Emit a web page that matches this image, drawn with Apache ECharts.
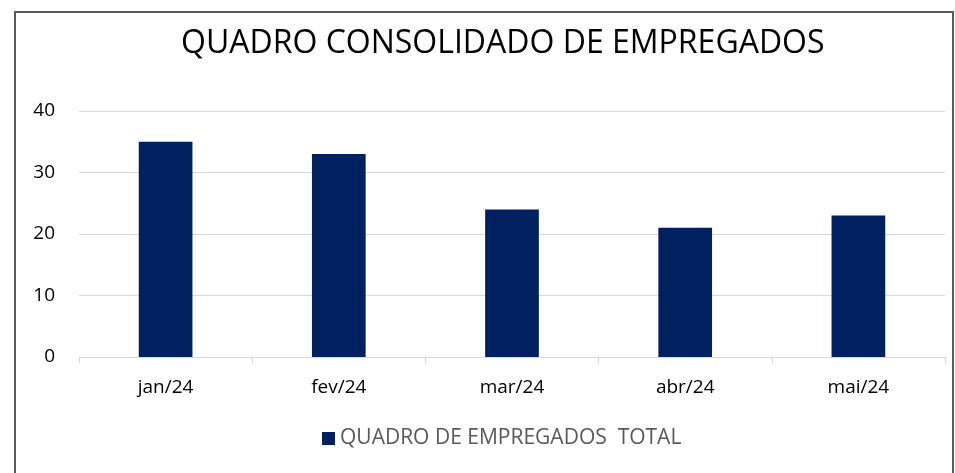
<!DOCTYPE html>
<html>
<head>
<meta charset="utf-8">
<script src="https://cdn.jsdelivr.net/npm/echarts@6/dist/echarts.min.js"></script>
<style>
  html, body { margin: 0; padding: 0; background: #fff; }
  #chart { width: 955px; height: 473px; }
</style>
</head>
<body>
<div id="chart"></div>
<script>
var categories = ["jan/24", "fev/24", "mar/24", "abr/24", "mai/24"];
var totalValues = [35, 33, 24, 21, 23];
var seriesName = "QUADRO DE EMPREGADOS  TOTAL";
var chartTitle = "QUADRO CONSOLIDADO DE EMPREGADOS";

var font = "'Open Sans', 'Noto Sans', sans-serif";
var chart = echarts.init(document.getElementById("chart"));
var option = {
  backgroundColor: "#ffffff",
  animation: false,
  graphic: [{
    type: "rect",
    shape: { x: 15, y: 12, width: 938, height: 480 },
    style: { fill: "none", stroke: "#595959", lineWidth: 2 },
    silent: true
  }],
  title: {
    text: chartTitle,
    left: 176,
    top: 23,
    textStyle: { fontFamily: font, fontSize: 32, fontWeight: "normal", color: "#000" }
  },
  legend: {
    bottom: 19,
    left: 317,
    itemWidth: 13,
    itemHeight: 13,
    itemGap: 12,
    icon: "rect",
    textStyle: { fontFamily: font, fontSize: 21, color: "#595959" }
  },
  grid: { left: 79, right: 10, top: 111, bottom: 116, containLabel: false },
  xAxis: {
    type: "category",
    data: categories,
    axisLine: { lineStyle: { color: "#d9d9d9", width: 1 } },
    axisTick: { show: true, length: 6, lineStyle: { color: "#d9d9d9" } },
    axisLabel: { fontFamily: font, fontSize: 19, color: "#000", margin: 21 }
  },
  yAxis: {
    type: "value",
    min: 0,
    max: 40,
    interval: 10,
    axisLine: { show: false },
    axisTick: { show: false },
    axisLabel: { fontFamily: font, fontSize: 19, color: "#000", margin: 24 },
    splitLine: { lineStyle: { color: "#d9d9d9", width: 1 } }
  },
  series: [{
    name: seriesName,
    type: "bar",
    data: totalValues,
    barWidth: "31%",
    itemStyle: { color: "#002060" }
  }]
};
chart.setOption(option);
</script>
</body>
</html>
